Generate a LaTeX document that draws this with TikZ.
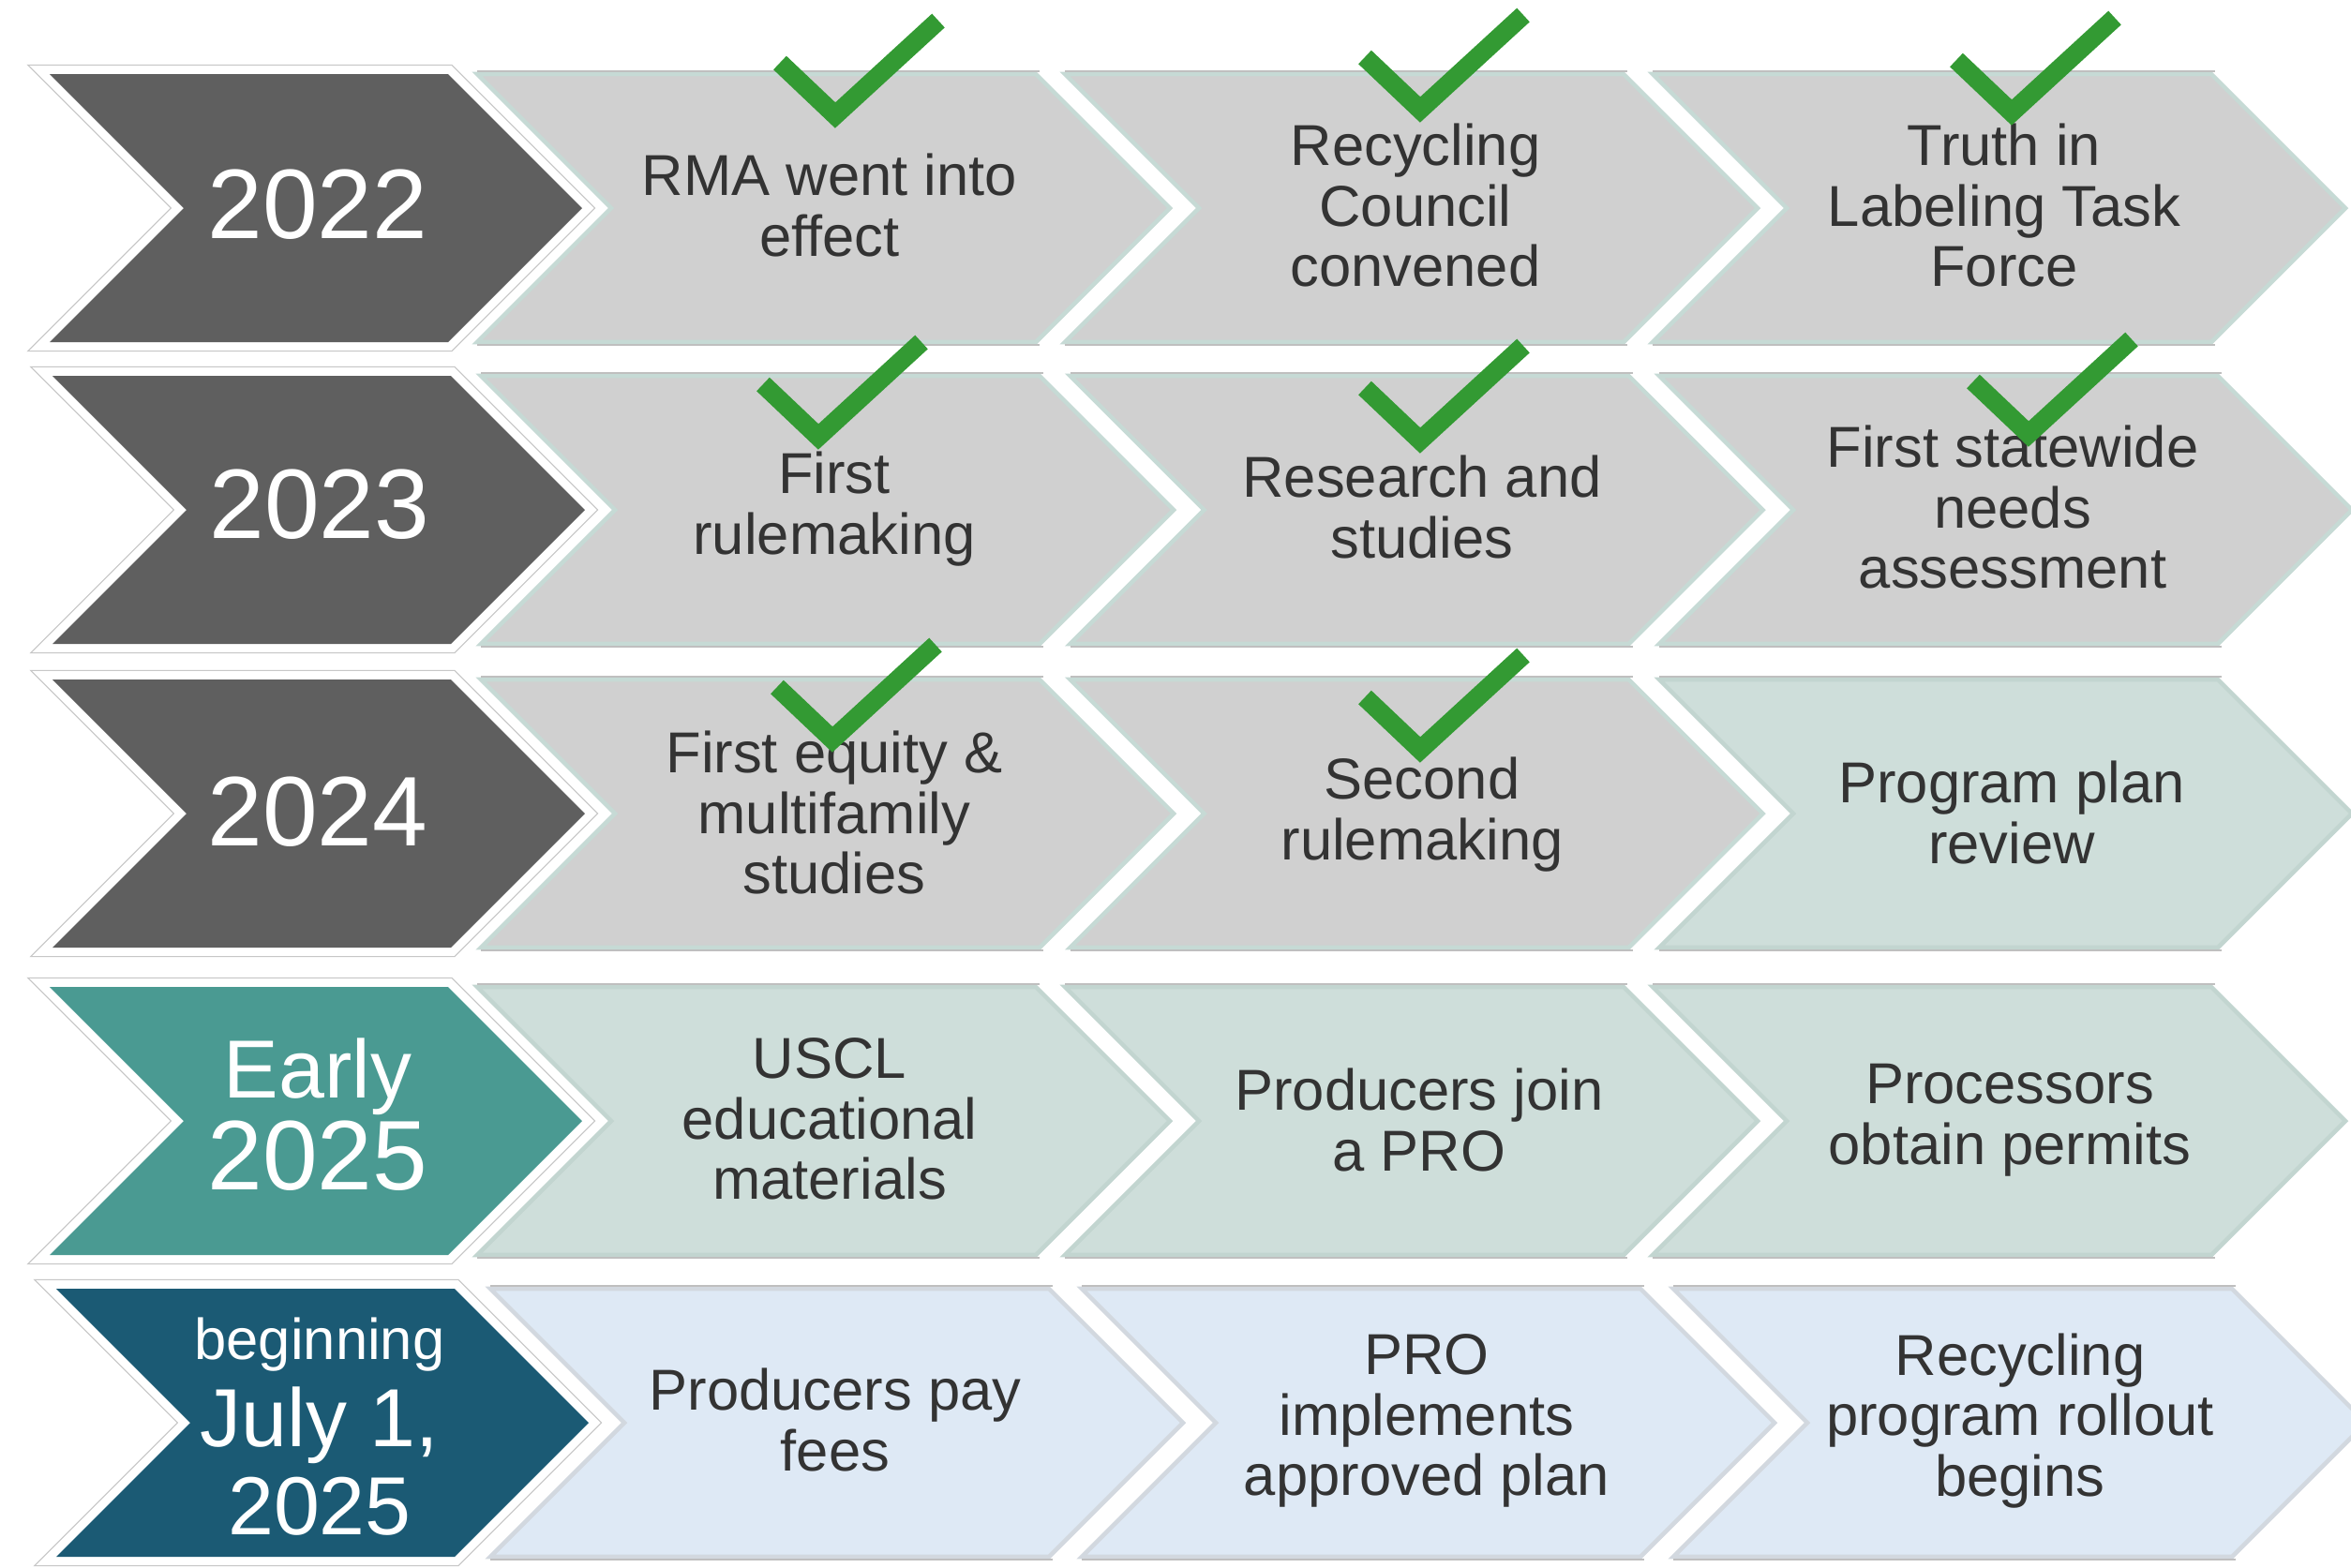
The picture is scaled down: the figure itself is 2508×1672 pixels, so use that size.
\documentclass[tikz,border=0pt]{standalone}
\usepackage{fontspec}
\setmainfont{Liberation Sans}

\definecolor{yeargray}{HTML}{5F5F5F}
\definecolor{yearteal}{HTML}{4A9A92}
\definecolor{yearblue}{HTML}{1B5A74}
\definecolor{stepfill}{HTML}{D0D0D0}
\definecolor{tealfill}{HTML}{CEDEDA}
\definecolor{bluefill}{HTML}{DEE9F5}
\definecolor{tealedge}{HTML}{C6DAD5}
\definecolor{darkedge}{HTML}{C2D5D0}
\definecolor{blueedge}{HTML}{D2D8DF}
\definecolor{txtgray}{HTML}{333333}
\definecolor{checkgreen}{HTML}{339A33}

% chevron: left x, centre y, body width
\newcommand{\chev}[3]{(#1,#2-143) -- ++(#3,0) -- ++(143,143) -- ++(-143,143) -- ++(-#3,0) -- ++(143,-143) -- cycle}
% check mark at its lower vertex
\newcommand{\donemark}[2]{\draw[checkline] (#1-59,#2-56) -- (#1,#2) -- (#1+110,#2-101);}

\tikzset{
  gstep/.style={fill=stepfill, draw=tealedge},
  tstep/.style={fill=tealfill, draw=darkedge},
  bstep/.style={fill=bluefill, draw=blueedge},
  steptext/.style={text=txtgray, align=center, inner sep=0pt,
    font=\fontsize{17.5}{18.4}\selectfont},
  yeartext/.style={text=white, align=center, inner sep=0pt,
    font=\fontsize{30}{30}\selectfont},
  checkline/.style={checkgreen, line width=5.7pt, line join=miter, line cap=butt}
}

\begin{document}
\begin{tikzpicture}[x=0.01cm, y=-0.01cm, line join=miter]
    \fill[white] (0,0) rectangle (2508,1672);
    \clip (0,0) rectangle (2508,1672);

    % rows: centre / year x / first step x / pitch / year colour / step styles
    \foreach \yc/\xy/\xs/\p/\yf/\sa/\sb/\sc in {
        222/53/509/627/yeargray/gstep/gstep/gstep,
        544/56/513/628.5/yeargray/gstep/gstep/gstep,
        868/56/513/628.5/yeargray/gstep/gstep/tstep,
        1196/53/509/627/yearteal/tstep/tstep/tstep,
        1518/60/523/631/yearblue/bstep/bstep/bstep} {
      \draw[black!22, line width=5.8pt] \chev{\xy}{\yc}{425};
      \draw[white, line width=5.1pt] \chev{\xy}{\yc}{425};
      \fill[\yf] \chev{\xy}{\yc}{425};
      \draw[\sa, line width=1.3pt] \chev{\xs}{\yc}{596};
      \draw[\sb, line width=1.3pt] \chev{\xs+\p}{\yc}{596};
      \draw[\sc, line width=1.3pt] \chev{\xs+2*\p}{\yc}{596};
      \foreach \k in {0,1,2} {
        \draw[black!25, line width=0.5pt] (\xs+\k*\p,\yc-146) -- ++(600,0);
        \draw[black!25, line width=0.5pt] (\xs+\k*\p,\yc+146) -- ++(600,0);
      }
    }

    % year labels
    \node[yeartext] (y22) at (339,218) {2022};
    \node[yeartext] (y23) at (341,538) {2023};
    \node[yeartext] (y24) at (339,866) {2024};
    \node[yeartext, font=\fontsize{25}{28}\selectfont] (y25a) at (339,1189)
        {Early\\{\fontsize{30}{28}\selectfont 2025}};
    \node[yeartext, font=\fontsize{17.5}{26.5}\selectfont] (y25b) at (341,1522)
        {beginning\\{\fontsize{25}{26.5}\selectfont July 1,}\\{\fontsize{25}{26.5}\selectfont 2025}};

    % steps
    \node[steptext] (rma) at (885,219) {RMA went into\\effect};
    \node[steptext] (council) at (1510,219) {Recycling\\Council\\convened};
    \node[steptext] (truth) at (2138,219) {Truth in\\Labeling Task\\Force};
    \node[steptext] (rule1) at (890,543) {First\\rulemaking};
    \node[steptext] (research) at (1517,541) {Research and\\studies};
    \node[steptext] (needs) at (2147,541) {First statewide\\needs\\assessment};
    \node[steptext] (equity) at (890,867) {First equity \&\\multifamily\\studies};
    \node[steptext] (rule2) at (1517,869) {Second\\rulemaking};
    \node[steptext] (review) at (2146,867) {Program plan\\review};
    \node[steptext] (uscl) at (885,1194) {USCL\\educational\\materials};
    \node[steptext] (join) at (1514,1195) {Producers join\\a PRO};
    \node[steptext] (permits) at (2144,1195) {Processors\\obtain permits};
    \node[steptext] (fees) at (891,1515) {Producers pay\\fees};
    \node[steptext] (plan) at (1522,1516) {PRO\\implements\\approved plan};
    \node[steptext] (rollout) at (2155,1516) {Recycling\\program rollout\\begins};

    % done marks
    \donemark{891}{123}
    \donemark{1515}{117}
    \donemark{2146}{120}
    \donemark{873}{466}
    \donemark{1515}{470}
    \donemark{2164}{463}
    \donemark{888}{789}
    \donemark{1515}{800}
\end{tikzpicture}
\end{document}
